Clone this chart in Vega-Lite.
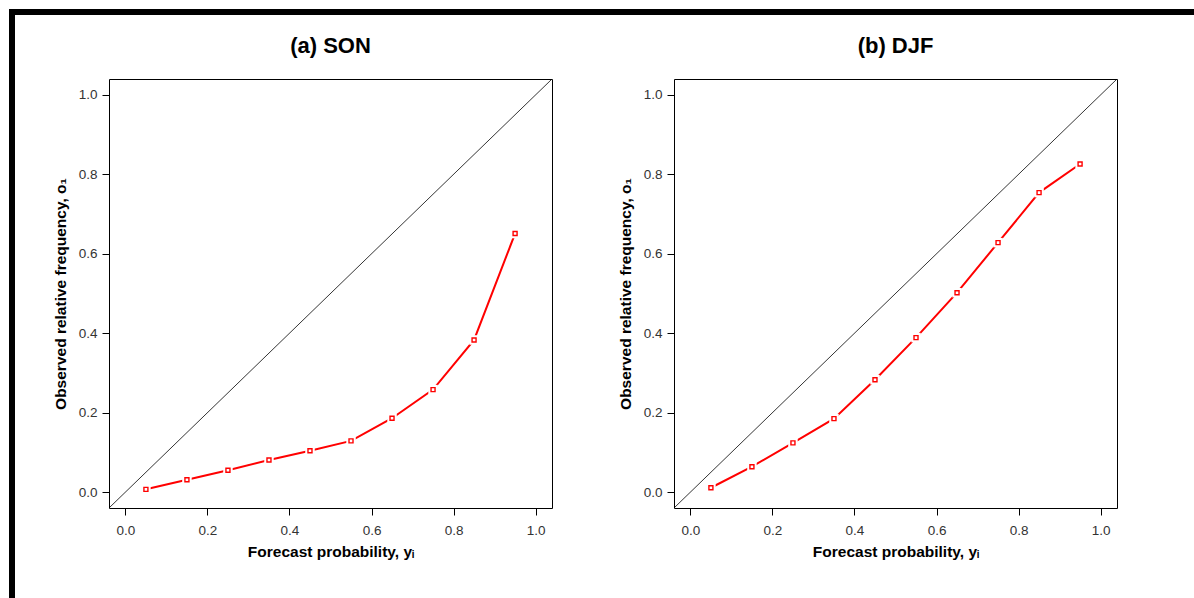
{
  "$schema": "https://vega.github.io/schema/vega-lite/v6.json",
  "background": "white",
  "padding": {"top": 9, "left": 9, "right": 0, "bottom": 0},
  "datasets": {
    "rel": [
      {"panel": "SON", "x": 0.05, "y": 0.007},
      {"panel": "SON", "x": 0.15, "y": 0.031},
      {"panel": "SON", "x": 0.25, "y": 0.055},
      {"panel": "SON", "x": 0.35, "y": 0.081},
      {"panel": "SON", "x": 0.45, "y": 0.104},
      {"panel": "SON", "x": 0.55, "y": 0.129},
      {"panel": "SON", "x": 0.65, "y": 0.186},
      {"panel": "SON", "x": 0.75, "y": 0.258},
      {"panel": "SON", "x": 0.85, "y": 0.383},
      {"panel": "SON", "x": 0.95, "y": 0.651},
      {"panel": "DJF", "x": 0.05, "y": 0.011},
      {"panel": "DJF", "x": 0.15, "y": 0.064},
      {"panel": "DJF", "x": 0.25, "y": 0.124},
      {"panel": "DJF", "x": 0.35, "y": 0.185},
      {"panel": "DJF", "x": 0.45, "y": 0.283},
      {"panel": "DJF", "x": 0.55, "y": 0.389},
      {"panel": "DJF", "x": 0.65, "y": 0.502},
      {"panel": "DJF", "x": 0.75, "y": 0.628},
      {"panel": "DJF", "x": 0.85, "y": 0.754},
      {"panel": "DJF", "x": 0.95, "y": 0.826}
    ],
    "diag": [
      {"x": -0.04, "y": -0.04},
      {"x": 1.04, "y": 1.04}
    ]
  },
  "vconcat": [
    {
      "width": 1185, "height": 6,
      "view": {"fill": "black", "stroke": null},
      "data": {"values": []},
      "mark": "point"
    },
    {
      "hconcat": [
        {
          "width": 6, "height": 583,
          "view": {"fill": "black", "stroke": null},
          "data": {"values": []},
          "mark": "point"
        },
        {
          "vconcat": [
            {
              "width": 6, "height": 1,
              "view": {"stroke": null},
              "data": {"values": []},
              "mark": "point"
            },
            {
              "hconcat": [
                {
                  "width": 443, "height": 429,
                  "title": {"text": "(a) SON"},
                  "layer": [
                    {
                      "data": {"name": "diag"},
                      "mark": {"type": "line", "color": "black", "strokeWidth": 0.8, "clip": true},
                      "encoding": {
                        "x": {"field": "x", "type": "quantitative", "scale": {"domain": [-0.04, 1.04], "nice": false, "zero": false}, "axis": {"values": [0, 0.2, 0.4, 0.6, 0.8, 1.0], "format": ".1f", "title": "Forecast probability, yᵢ"}},
                        "y": {"field": "y", "type": "quantitative", "scale": {"domain": [-0.04, 1.04], "nice": false, "zero": false}, "axis": {"values": [0, 0.2, 0.4, 0.6, 0.8, 1.0], "format": ".1f", "title": "Observed relative frequency, o₁"}}
                      }
                    },
                    {
                      "data": {"name": "rel"},
                      "transform": [{"filter": "datum.panel === 'SON'"}],
                      "mark": {"type": "line", "color": "#ff0000", "strokeWidth": 2},
                      "encoding": {"x": {"field": "x", "type": "quantitative"}, "y": {"field": "y", "type": "quantitative"}}
                    },
                    {
                      "data": {"name": "rel"},
                      "transform": [{"filter": "datum.panel === 'SON'"}],
                      "mark": {"type": "point", "shape": "square", "filled": true, "color": "white", "size": 90, "opacity": 1},
                      "encoding": {"x": {"field": "x", "type": "quantitative"}, "y": {"field": "y", "type": "quantitative"}}
                    },
                    {
                      "data": {"name": "rel"},
                      "transform": [{"filter": "datum.panel === 'SON'"}],
                      "mark": {"type": "point", "shape": "square", "filled": false, "color": "#ff0000", "size": 16, "strokeWidth": 1.4, "opacity": 1},
                      "encoding": {"x": {"field": "x", "type": "quantitative"}, "y": {"field": "y", "type": "quantitative"}}
                    }
                  ]
                },
                {
                  "width": 443, "height": 429,
                  "title": {"text": "(b) DJF"},
                  "layer": [
                    {
                      "data": {"name": "diag"},
                      "mark": {"type": "line", "color": "black", "strokeWidth": 0.8, "clip": true},
                      "encoding": {
                        "x": {"field": "x", "type": "quantitative", "scale": {"domain": [-0.04, 1.04], "nice": false, "zero": false}, "axis": {"values": [0, 0.2, 0.4, 0.6, 0.8, 1.0], "format": ".1f", "title": "Forecast probability, yᵢ"}},
                        "y": {"field": "y", "type": "quantitative", "scale": {"domain": [-0.04, 1.04], "nice": false, "zero": false}, "axis": {"values": [0, 0.2, 0.4, 0.6, 0.8, 1.0], "format": ".1f", "title": "Observed relative frequency, o₁"}}
                      }
                    },
                    {
                      "data": {"name": "rel"},
                      "transform": [{"filter": "datum.panel === 'DJF'"}],
                      "mark": {"type": "line", "color": "#ff0000", "strokeWidth": 2},
                      "encoding": {"x": {"field": "x", "type": "quantitative"}, "y": {"field": "y", "type": "quantitative"}}
                    },
                    {
                      "data": {"name": "rel"},
                      "transform": [{"filter": "datum.panel === 'DJF'"}],
                      "mark": {"type": "point", "shape": "square", "filled": true, "color": "white", "size": 90, "opacity": 1},
                      "encoding": {"x": {"field": "x", "type": "quantitative"}, "y": {"field": "y", "type": "quantitative"}}
                    },
                    {
                      "data": {"name": "rel"},
                      "transform": [{"filter": "datum.panel === 'DJF'"}],
                      "mark": {"type": "point", "shape": "square", "filled": false, "color": "#ff0000", "size": 16, "strokeWidth": 1.4, "opacity": 1},
                      "encoding": {"x": {"field": "x", "type": "quantitative"}, "y": {"field": "y", "type": "quantitative"}}
                    }
                  ]
                }
              ],
              "spacing": 64
            }
          ],
          "spacing": 18
        }
      ],
      "spacing": 37
    }
  ],
  "spacing": 0,
  "config": {
    "font": "Liberation Sans",
    "view": {"stroke": "black", "strokeWidth": 1},
    "axis": {
      "domain": false, "grid": false,
      "tickColor": "black", "tickSize": 7, "tickWidth": 1,
      "labelFont": "Liberation Sans", "labelFontSize": 13.5, "labelColor": "#333333",
      "titleFont": "Liberation Sans", "titleFontSize": 15.5, "titleFontWeight": "bold", "titleColor": "black"
    },
    "axisX": {"labelPadding": 8, "titlePadding": 8},
    "axisY": {"labelPadding": 5, "titlePadding": 10},
    "title": {"font": "Liberation Sans", "fontSize": 22, "fontWeight": "bold", "color": "black", "offset": 21, "anchor": "middle"}
  }
}
